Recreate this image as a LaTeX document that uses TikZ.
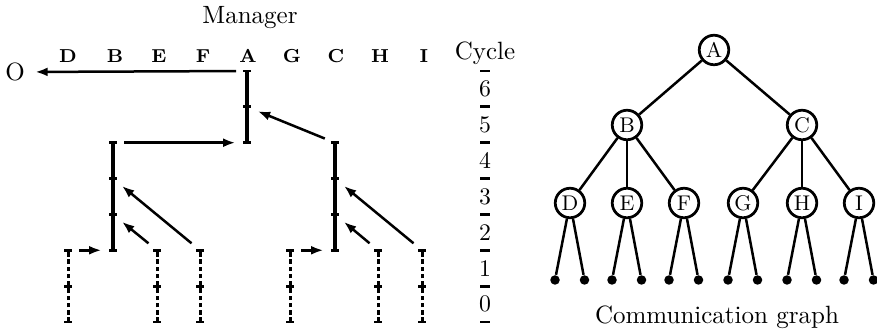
\documentclass[tikz,border=0pt]{standalone}
\usetikzlibrary{arrows.meta}
\begin{document}
\begin{tikzpicture}[x=0.4pt,y=-0.4pt,
  bar/.style={line width=1.3pt},
  dbar/.style={line width=1.2pt, dash pattern=on 1.8pt off 1.1pt},
  capline/.style={line width=1.1pt},
  msg/.style={line width=1pt, -{Latex[length=5pt,width=3.6pt]},
              shorten <=4.4pt, shorten >=4.6pt},
  proc/.style={font=\fontsize{7.5}{9}\selectfont\bfseries, inner sep=0pt},
  lbl/.style={font=\fontsize{10}{12}\selectfont, inner sep=0pt},
  num/.style={font=\fontsize{9.5}{11}\selectfont, inner sep=0pt},
  vtx/.style={circle, draw, line width=1.1pt, minimum size=11.8pt, inner sep=0pt,
              font=\fontsize{8.5}{10}\selectfont},
  leaf/.style={circle, fill, minimum size=3.8pt, inner sep=0pt},
  edge/.style={line width=1pt},
]
\useasboundingbox (0,0) rectangle (877,330);

% ---- time lines of the processes ----
\foreach \p/\x/\a/\b in {A/247/5/7, B/113/2/5, C/335/2/5,
                         D/68/0/2, E/157/0/2, F/200/0/2,
                         G/290/0/2, H/378/0/2, I/422/0/2}{
  \foreach \k in {\a,...,\b}
    \coordinate (\p\k) at (\x,{322-35.857*\k});
}
% solid busy intervals
\draw[bar] (A5) -- (A7);
\draw[bar] (B2) -- (B5);
\draw[bar] (C2) -- (C5);
% dashed intervals of the leaf processes
\foreach \p in {D,E,F,G,H,I}
  \draw[dbar] (\p0) -- (\p2);
% cycle boundary caps on every time line
\foreach \p/\a/\b in {A/5/7, B/2/5, C/2/5, D/0/2, E/0/2, F/0/2, G/0/2, H/0/2, I/0/2}{
  \foreach \k in {\a,...,\b}
    \draw[capline] ([xshift=-1.6pt]\p\k) -- ([xshift=1.6pt]\p\k);
}

% ---- labels above the time lines ----
\node[lbl] (mgr) at (250,18) {Manager};
\foreach \p/\x in {D/68, B/115, E/159, F/203, A/248, G/292, C/336, H/380, I/424}
  \node[proc] (lab\p) at (\x,56) {\p};
\node[lbl] (out) at (15,72) {O};

% ---- messages ----
\draw[msg, shorten >=4pt] (A7) -- (out.east);
\draw[msg] (B5) -- (A5);
\draw[msg] (C5) -- (A6);
\draw[msg] (D2) -- (B2);
\draw[msg] (E2) -- (B3);
\draw[msg] (F2) -- (B4);
\draw[msg] (G2) -- (C2);
\draw[msg] (H2) -- (C3);
\draw[msg] (I2) -- (C4);

% ---- cycle scale ----
\node[lbl] (cyc) at (485,53) {Cycle};
\foreach \k in {0,...,7}
  \draw[capline] (480,{322-35.857*\k}) -- (490,{322-35.857*\k});
\foreach \k in {0,...,6}
  \node[num] (n\k) at (485,{322-35.857*(\k+0.5)}) {\k};

% ---- communication graph ----
\node[vtx] (tA) at (714,50) {A};
\node[vtx] (tB) at (627,125) {B};
\node[vtx] (tC) at (802,125) {C};
\foreach \p/\x in {D/570, E/627, F/684, G/743, H/802, I/859}{
  \node[vtx] (t\p) at (\x,203) {\p};
  \node[leaf] (t\p l) at (\x-15,280) {};
  \node[leaf] (t\p r) at (\x+14.5,280) {};
  \draw[edge] (t\p) -- (t\p l);
  \draw[edge] (t\p) -- (t\p r);
}
\draw[edge] (tA) -- (tB);
\draw[edge] (tA) -- (tC);
\foreach \c in {D,E,F} \draw[edge] (tB) -- (t\c);
\foreach \c in {G,H,I} \draw[edge] (tC) -- (t\c);
\node[lbl] (cap) at (717,317) {Communication graph};
\end{tikzpicture}
\end{document}
